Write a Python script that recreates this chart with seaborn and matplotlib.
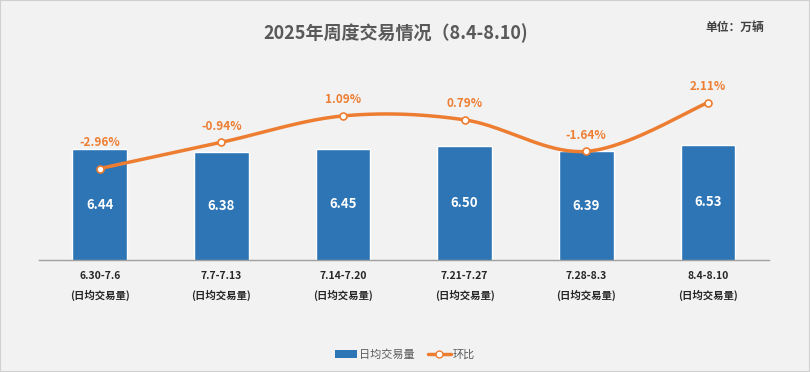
import numpy as np
import pandas as pd
import seaborn as sns
import matplotlib.pyplot as plt
from matplotlib.lines import Line2D
from matplotlib.patches import Patch, Rectangle

# 数据
weeks = ["6.30-7.6", "7.7-7.13", "7.14-7.20", "7.21-7.27", "7.28-8.3", "8.4-8.10"]
daily_volume = [6.44, 6.38, 6.45, 6.50, 6.39, 6.53]
wow_change = [-2.96, -0.94, 1.09, 0.79, -1.64, 2.11]

BLUE = "#2e75b6"
ORANGE = "#ed7d31"
BG = "#f2f2f2"


def smooth_curve(y, n=40):
    # Excel 风格平滑线 (Catmull-Rom)
    x = np.arange(len(y), dtype=float)
    pts = np.column_stack([x, np.asarray(y, dtype=float)])
    pts = np.vstack([pts[0], pts, pts[-1]])
    out = []
    t = np.linspace(0, 1, n)[:, None]
    for i in range(1, len(pts) - 2):
        p0, p1, p2, p3 = pts[i - 1], pts[i], pts[i + 1], pts[i + 2]
        c1 = p1 + (p2 - p0) / 6
        c2 = p2 - (p3 - p1) / 6
        seg = ((1 - t) ** 3) * p1 + 3 * ((1 - t) ** 2) * t * c1 + 3 * (1 - t) * t ** 2 * c2 + t ** 3 * p2
        out.append(seg)
    out = np.vstack(out)
    return out[:, 0], out[:, 1]


sns.set_theme(style="white")
plt.rcParams["font.family"] = ["Noto Sans CJK SC", "DejaVu Sans"]

df = pd.DataFrame({"week": weeks, "volume": daily_volume, "change": wow_change})

fig = plt.figure(figsize=(8.1, 3.72), dpi=100, facecolor=BG)
fig.patches.append(Rectangle((0, 0), 1, 1, transform=fig.transFigure,
                             facecolor="none", edgecolor="#d0d0d0", linewidth=1.5))
ax = fig.add_axes([0.048, 0.301, 0.901, 0.489])
ax.set_facecolor(BG)

sns.barplot(data=df, x="week", y="volume", color=BLUE, width=0.45, saturation=1, ax=ax)
ax.set_ylim(4, 8)
ax.set_xlim(-0.5, 5.5)
ax.set_yticks([])
ax.set_ylabel("")
ax.set_xlabel("")
for s in ["top", "left", "right"]:
    ax.spines[s].set_visible(False)
ax.spines["bottom"].set_color("#a0a0a0")
ax.spines["bottom"].set_linewidth(1)
ax.set_xticks(range(len(weeks)))
ax.set_xticklabels([f"{w}\n(日均交易量)" for w in weeks], fontsize=7.5,
                   fontweight="bold", color="#262626", linespacing=1.9)
ax.tick_params(axis="x", length=0, pad=8)

for i, v in enumerate(daily_volume):
    ax.text(i, (4 + v) / 2, f"{v:.2f}", ha="center", va="center",
            color="white", fontsize=9.5, fontweight="bold")

ax2 = ax.twinx()
ax2.set_ylim(-10, 4)
ax2.set_yticks([])
for s in ax2.spines.values():
    s.set_visible(False)
sx, sy = smooth_curve(wow_change)
ax2.plot(sx, sy, color=ORANGE, linewidth=2.5, solid_capstyle="round", zorder=3)
ax2.plot(range(len(wow_change)), wow_change, linestyle="none", marker="o", markersize=5,
         markerfacecolor="white", markeredgecolor=ORANGE, markeredgewidth=1.2, zorder=4)

label_offsets = [26, 16, 16, 16, 16, 16]
for i, (c, off) in enumerate(zip(wow_change, label_offsets)):
    ax2.annotate(f"{c:.2f}%", (i, c), xytext=(0, off), textcoords="offset pixels",
                 ha="center", va="center", color=ORANGE, fontsize=8.5, fontweight="bold")

fig.text(0.488, 0.912, "2025年周度交易情况（8.4-8.10)", ha="center", va="center",
         fontsize=13, fontweight="bold", color="#595959")
fig.text(0.907, 0.925, "单位：万辆", ha="center", va="center",
         fontsize=8.5, fontweight="bold", color="#404040")

handles = [Patch(facecolor=BLUE, edgecolor="none"),
           Line2D([0], [0], color=ORANGE, linewidth=2.5, marker="o", markersize=5,
                  markerfacecolor="white", markeredgecolor=ORANGE)]
fig.legend(handles, ["日均交易量", "环比"], loc="center", bbox_to_anchor=(0.5, 0.046),
           ncol=2, frameon=False, fontsize=8, labelcolor="#595959",
           handlelength=2.0, handleheight=0.7, columnspacing=1.2, handletextpad=0.2)

fig.savefig("out.png", dpi=100, facecolor=BG)
